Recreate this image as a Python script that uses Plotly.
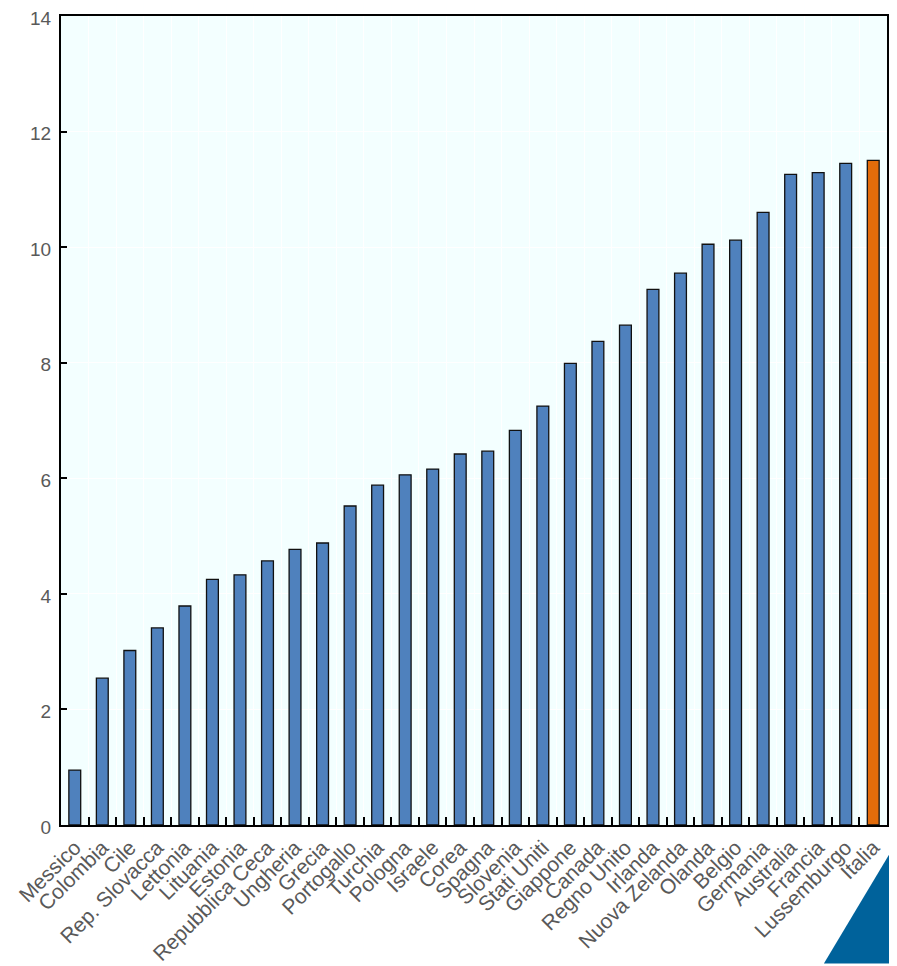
import plotly.graph_objects as go

countries = ["Messico", "Colombia", "Cile", "Rep. Slovacca", "Lettonia", "Lituania", "Estonia",
             "Repubblica Ceca", "Ungheria", "Grecia", "Portogallo", "Turchia", "Pologna", "Israele",
             "Corea", "Spagna", "Slovenia", "Stati Uniti", "Giappone", "Canada", "Regno Unito",
             "Irlanda", "Nuova Zelanda", "Olanda", "Belgio", "Germania", "Australia", "Francia",
             "Lussemburgo", "Italia"]
values = [0.95, 2.54, 3.02, 3.41, 3.79, 4.25, 4.33, 4.57, 4.77, 4.88, 5.52, 5.88, 6.06, 6.16,
          6.42, 6.47, 6.83, 7.25, 7.99, 8.37, 8.65, 9.27, 9.55, 10.05, 10.12, 10.6, 11.26, 11.29,
          11.45, 11.5]
highlight = "Italia"

colors = ["#E36C0A" if c == highlight else "#4F81BD" for c in countries]

fig = go.Figure(go.Bar(
    x=countries, y=values,
    marker=dict(color=colors, line=dict(color="#111111", width=1.3)),
    width=0.43,
))

# page body has an 8px default margin; compensate so the figure fits the window
fig.update_layout(
    width=889, height=958,
    margin=dict(l=53, r=10, t=8, b=141),
    paper_bgcolor="white",
    plot_bgcolor="#F3FFFF",
    showlegend=False,
    bargap=0.57,
    font=dict(family="Liberation Sans, Arial, sans-serif", color="#595959", size=20),
)
fig.update_xaxes(
    tickangle=-45, tickson="boundaries", ticks="inside", ticklen=8, tickwidth=2, tickcolor="#000000",
    showline=True, linecolor="#000000", linewidth=2, mirror=True,
    showgrid=True, gridcolor="#FFFFFF", gridwidth=1, automargin=False,
    tickfont=dict(size=21, color="#595959"), ticklabeloverflow="allow",
)
fig.update_yaxes(
    range=[0, 14], dtick=2, ticks="inside", ticklen=6, tickwidth=2, tickcolor="#000000",
    showline=True, linecolor="#000000", linewidth=2, mirror=True,
    showgrid=True, gridcolor="#FFFFFF", gridwidth=1, zeroline=False, automargin=False,
    tickfont=dict(size=19, color="#595959"), ticklabelstandoff=4, ticklabeloverflow="allow",
    ticklabelshift=2,
)

# decorative corner triangle (bottom-right of the page)
fig.add_shape(type="path", xref="paper", yref="paper",
              path="M 1.0125,-0.0196 L 1.0125,-0.1712 L 0.9236,-0.1712 Z",
              fillcolor="#00629B", line=dict(width=0), layer="above")

fig.write_html("out.html")
